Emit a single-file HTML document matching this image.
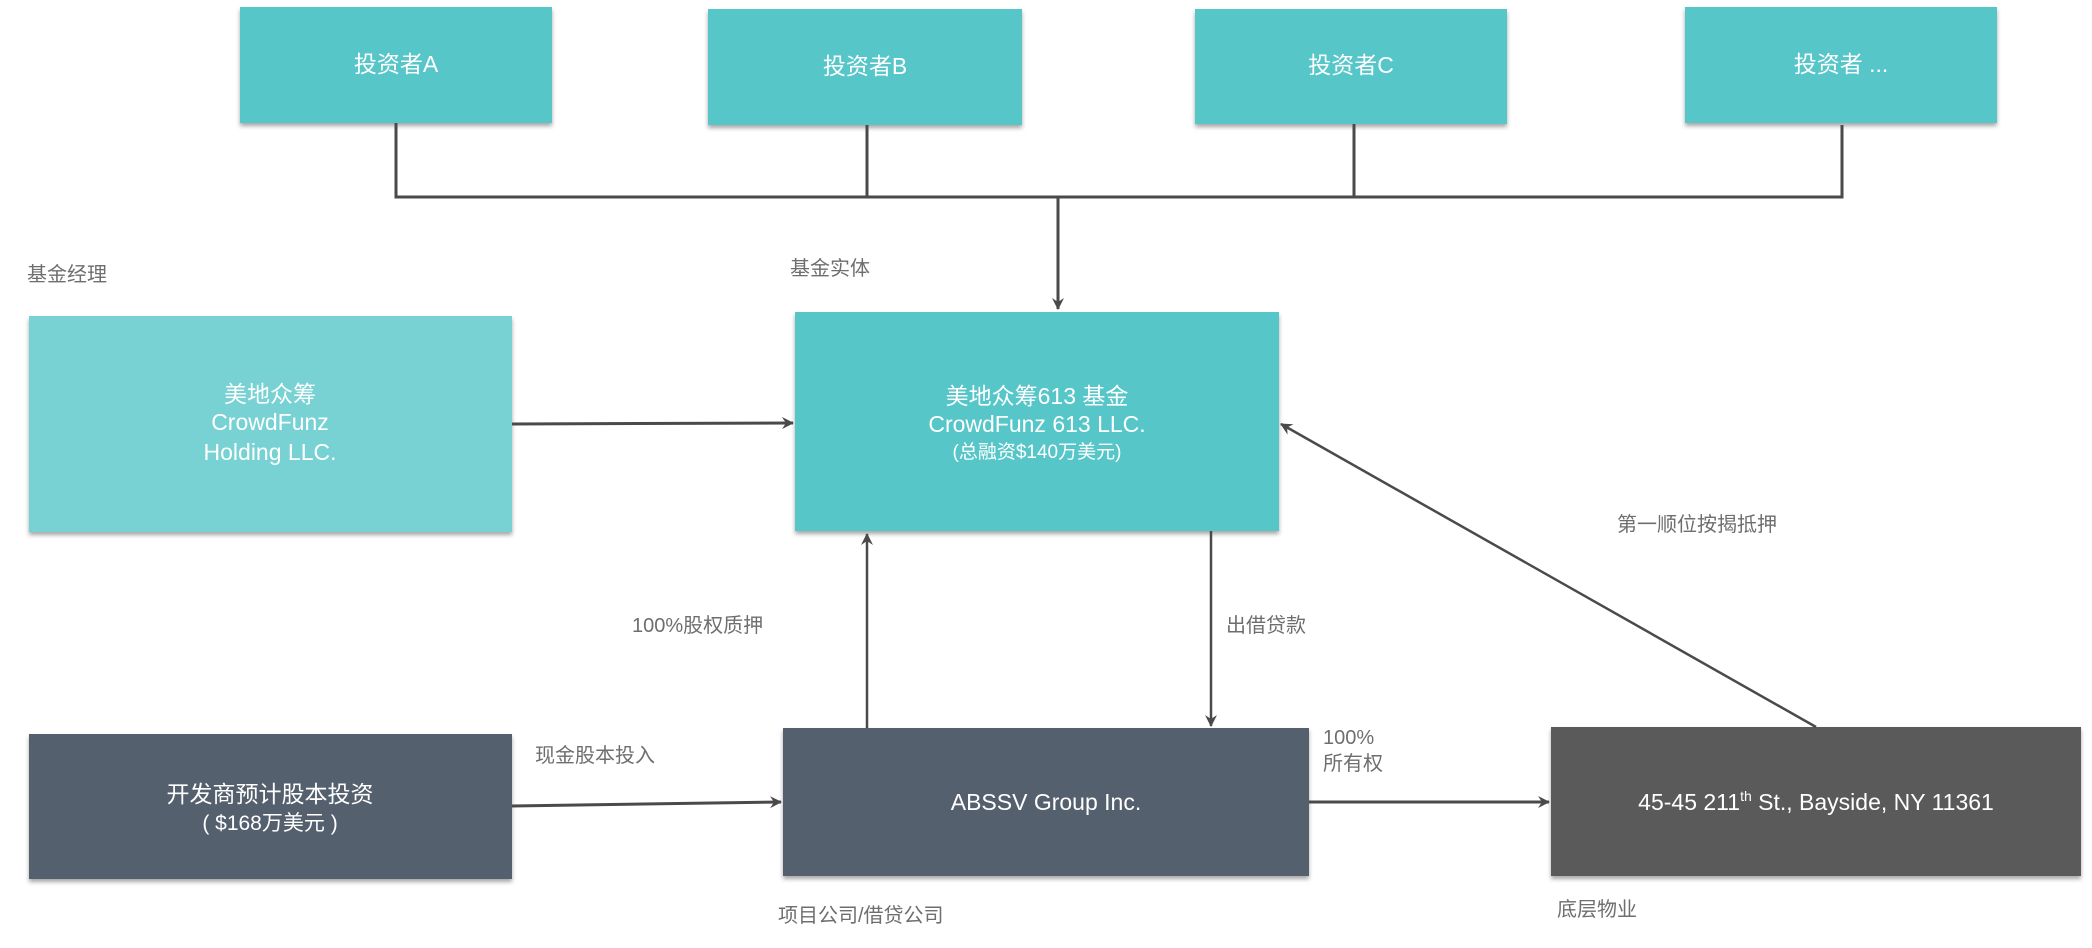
<!DOCTYPE html>
<html><head><meta charset="utf-8"><style>
html,body{margin:0;padding:0;background:#fff;width:2092px;height:948px;overflow:hidden}
svg{display:block}
text{font-family:"Liberation Sans","Noto Sans CJK SC",sans-serif}
.lbl{fill:#6e6e6e;font-size:20px}
.bt{fill:#fff;font-size:23px;text-anchor:middle}
</style></head><body>
<svg width="2092" height="948" viewBox="0 0 2092 948" xmlns="http://www.w3.org/2000/svg">
<defs>
<filter id="sh" x="-5%" y="-5%" width="110%" height="115%"><feDropShadow dx="0" dy="3" stdDeviation="2" flood-color="#000" flood-opacity="0.35"/></filter>
<marker id="ar" markerWidth="12" markerHeight="12" refX="11" refY="6" orient="auto" markerUnits="userSpaceOnUse"><path d="M0,0 L12,6 L0,12 L4,6 Z" fill="#4a4a4a"/></marker>
</defs>
<g filter="url(#sh)">
<rect x="240" y="7" width="312" height="116" fill="#56c6c9"/>
<rect x="708" y="9" width="314" height="116" fill="#56c6c9"/>
<rect x="1195" y="9" width="312" height="115" fill="#56c6c9"/>
<rect x="1685" y="7" width="312" height="116" fill="#56c6c9"/>
<rect x="29" y="316" width="483" height="216" fill="#78d2d3"/>
<rect x="795" y="312" width="484" height="219" fill="#56c6c9"/>
<rect x="29" y="734" width="483" height="145" fill="#55606e"/>
<rect x="783" y="728" width="526" height="148" fill="#55606e"/>
<rect x="1551" y="727" width="530" height="149" fill="#5a5a5a"/>
</g>
<g stroke="#4a4a4a" stroke-width="3" fill="none">
<path d="M396 123 V197 H1842 V125"/>
<path d="M867 125 V197 M1354 124 V197"/>
<path d="M1058 197 V309" marker-end="url(#ar)"/>
<path d="M512 424 L793 423" marker-end="url(#ar)"/>
<path d="M512 806 L781 802" marker-end="url(#ar)"/>
<path d="M867 728 V534" stroke-width="2.5" marker-end="url(#ar)"/>
<path d="M1211 531 V726" stroke-width="2.5" marker-end="url(#ar)"/>
<path d="M1309 802 H1549" marker-end="url(#ar)"/>
<path d="M1816 727 L1281 424" stroke-width="2.5" marker-end="url(#ar)"/>
</g>
<text class="bt" x="396" y="72">投资者A</text>
<text class="bt" x="865" y="74">投资者B</text>
<text class="bt" x="1351" y="73">投资者C</text>
<text class="bt" x="1841" y="72">投资者 ...</text>
<text class="bt" x="270" y="402">美地众筹</text>
<text class="bt" x="270" y="430">CrowdFunz</text>
<text class="bt" x="270" y="460">Holding LLC.</text>
<text class="bt" x="1037" y="404">美地众筹613 基金</text>
<text class="bt" x="1037" y="432">CrowdFunz 613 LLC.</text>
<text class="bt" x="1037" y="458" style="font-size:19px">(总融资$140万美元)</text>
<text class="bt" x="270" y="802">开发商预计股本投资</text>
<text class="bt" x="270" y="830" style="font-size:21px">( $168万美元 )</text>
<text class="bt" x="1046" y="810">ABSSV Group Inc.</text>
<text class="bt" x="1816" y="810">45-45 211<tspan dy="-9" style="font-size:14px">th</tspan><tspan dy="9"> St., Bayside, NY 11361</tspan></text>
<text class="lbl" x="27" y="281">基金经理</text>
<text class="lbl" x="790" y="275">基金实体</text>
<text class="lbl" x="632" y="632">100%股权质押</text>
<text class="lbl" x="1226" y="632">出借贷款</text>
<text class="lbl" x="1617" y="531">第一顺位按揭抵押</text>
<text class="lbl" x="535" y="762">现金股本投入</text>
<text class="lbl" x="1323" y="744">100%</text>
<text class="lbl" x="1323" y="770">所有权</text>
<text class="lbl" x="778" y="922">项目公司/借贷公司</text>
<text class="lbl" x="1557" y="916">底层物业</text>
</svg>
</body></html>
